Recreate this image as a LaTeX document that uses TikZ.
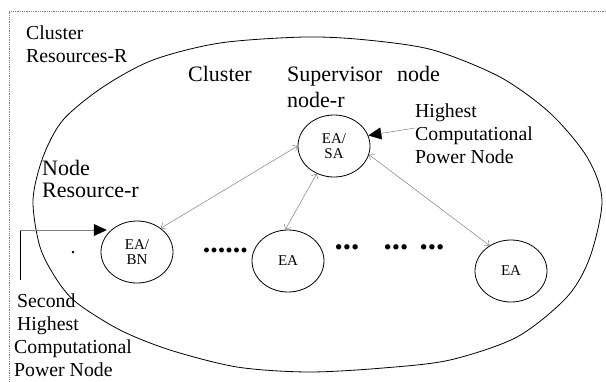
\documentclass[tikz,border=0pt]{standalone}
\usepackage{fontspec}
\setmainfont{Liberation Serif}
\usetikzlibrary{shapes.geometric,arrows.meta}
\newcommand{\txtlines}[1]{\begin{tabular}[t]{@{}l@{}}#1\end{tabular}}
\begin{document}
\begin{tikzpicture}[x=1pt,y=-1pt,
  lbl/.style={inner sep=0pt, anchor=base west},
  bigtxt/.style={font=\fontsize{19.8}{23}\selectfont},
  midtxt/.style={font=\fontsize{22}{26}\selectfont},
  agent/.style={ellipse, draw, line width=0.8pt, minimum width=72pt, minimum height=62pt, inner sep=0pt, align=center, font=\fontsize{15}{15}\selectfont},
  link/.style={draw=gray, line width=0.5pt, {Straight Barb[length=4pt,width=7pt]}-{Straight Barb[length=4pt,width=7pt]}},
  bigtip/.style={draw=gray, line width=0.5pt, -{Triangle[length=13pt,width=12pt,color=black]}},
  dotrow/.style={inner sep=0pt, anchor=base west}
]
\useasboundingbox (0,0) rectangle (606,381);
% dotted frame
\draw[gray, densely dotted, line width=0.8pt] (606,11) -- (9,11) -- (9,381);
% cluster outline
\draw[line width=0.8pt] plot[smooth cycle] coordinates {
 (33,200) (43,157) (63,120) (103,87) (153,60) (220,43) (305,37) (367,40) (433,50)
 (500,77) (550,113) (587,157) (602,200) (590,257) (567,297) (517,337) (450,360)
 (383,368) (308,372) (237,367) (170,350) (120,330) (77,303) (57,280) (40,247)};
% texts
\node[lbl,bigtxt] (cr) at (26,39) {\txtlines{Cluster\\Resources-R}};
\node[lbl,midtxt] (cl) at (188,81) {Cluster};
\node[lbl,midtxt] (sup) at (287,81) {\txtlines{Supervisor\hspace{14.5pt}node\\node-r}};
\node[lbl,font=\fontsize{22}{22.5}\selectfont] (nr) at (42,175) {\txtlines{Node\\Resource-r}};
\node[lbl,bigtxt] (hcp) at (415,117) {\txtlines{Highest\\Computational\\Power Node}};
\node[lbl,bigtxt] (shcp) at (14,307) {\txtlines{\hspace{3pt}Second\\\hspace{3pt}Highest\\Computational\\Power Node}};
% agents
\node[agent] (SA) at (334,146) {EA/\\SA};
\node[agent] (BN) at (137,252) {EA/\\BN};
\node[agent] (EA1) at (288,261) {EA};
\node[agent] (EA2) at (511,271) {EA};
% dots
\node[dotrow, font=\fontsize{30}{30}\selectfont\bfseries] (d1) at (202.7,252.5) {......};
\node[dotrow, font=\fontsize{33}{33}\selectfont\bfseries] (d2) at (334.5,249.5) {...};
\node[dotrow, font=\fontsize{33}{33}\selectfont\bfseries] (d3) at (383.5,249.5) {...};
\node[dotrow, font=\fontsize{33}{33}\selectfont\bfseries] (d4) at (419.5,249.5) {...};
\node[dotrow, font=\fontsize{20}{20}\selectfont] (d0) at (70.5,253) {.};
% links
\draw[link] (SA.180) -- (BN.45);
\draw[link] (SA.238) -- (EA1.95);
\draw[link] (SA.346) -- (EA2.130);
% pointer arrows
\coordinate (ha) at (415,128);
\draw[bigtip] (ha) -- (SA.17);
\coordinate (sb) at (20,280);
\coordinate (st) at (20,230);
\draw[line width=0.8pt] (sb) -- (st);
\draw[bigtip] (st) -- (st -| BN.150);
\end{tikzpicture}
\end{document}
